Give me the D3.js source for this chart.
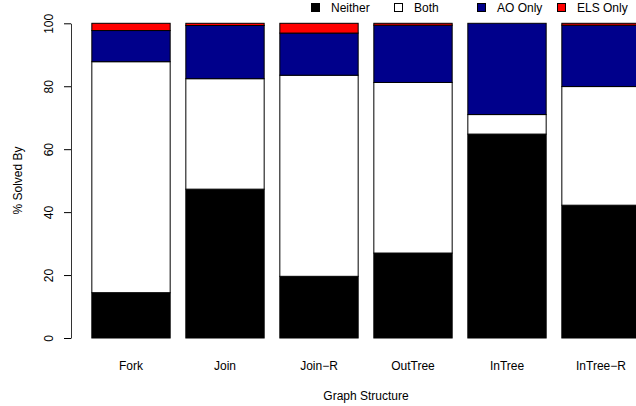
<!DOCTYPE html>
<html>
<head>
<meta charset="utf-8">
<script src="https://cdn.jsdelivr.net/npm/d3@7"></script>
<style>
  html, body { margin: 0; padding: 0; background: #fff; }
  svg { display: block; font-family: "Liberation Sans", Arial, Helvetica, sans-serif; }
</style>
</head>
<body>
<svg id="chart" width="636" height="406"></svg>
<script>
// Share of instances solved, per graph structure
const categories = ["Fork", "Join", "Join\u2212R", "OutTree", "InTree", "InTree\u2212R"];
const neither = [14.4, 47.3, 19.6, 27.0, 64.8, 42.2];
const both    = [73.4, 35.1, 63.9, 54.2,  6.2, 37.7];
const aoOnly  = [ 9.9, 16.9, 13.4, 18.2, 29.0, 19.5];
const elsOnly = [ 2.3,  0.7,  3.1,  0.6,  0.0,  0.6];
const seriesNames = ["Neither", "Both", "AO Only", "ELS Only"];
const seriesColors = ["#000000", "#ffffff", "#00008b", "#ff0000"];
const yTicks = [0, 20, 40, 60, 80, 100];

const rows = categories.map((c, i) => ({
  cat: c,
  "Neither": neither[i],
  "Both": both[i],
  "AO Only": aoOnly[i],
  "ELS Only": elsOnly[i]
}));

const fontSize = 12;
const svg = d3.select("#chart");

const x = d3.scaleBand()
  .domain(categories)
  .range([84, 648])
  .paddingInner(0.2 / 1.2)
  .paddingOuter(0.1 / 1.2);

const y = d3.scaleLinear().domain([0, 100]).range([338, 23.3]);

const stacked = d3.stack().keys(seriesNames)(rows);
const color = d3.scaleOrdinal().domain(seriesNames).range(seriesColors);

// stacked bars
svg.append("g")
  .selectAll("g")
  .data(stacked)
  .join("g")
  .attr("fill", d => color(d.key))
  .selectAll("rect")
  .data(d => d.filter(p => p[1] - p[0] > 0))
  .join("rect")
  .attr("x", d => x(d.data.cat))
  .attr("width", x.bandwidth())
  .attr("y", d => y(d[1]))
  .attr("height", d => y(d[0]) - y(d[1]))
  .attr("stroke", "#000")
  .attr("stroke-width", 1);

// y axis
const yAxis = svg.append("g")
  .attr("transform", "translate(71,0)")
  .call(d3.axisLeft(y).tickValues(yTicks).tickSize(7).tickSizeOuter(0));
yAxis.select(".domain").attr("stroke", "#333");
yAxis.selectAll(".tick line").attr("stroke", "#000");
yAxis.selectAll(".tick text")
  .attr("x", 0).attr("y", 0)
  .attr("transform", "translate(-26,0) rotate(-90)")
  .attr("text-anchor", "middle")
  .attr("dominant-baseline", "central")
  .attr("font-size", fontSize)
  .attr("font-family", "Liberation Sans, Arial, sans-serif")
  .attr("fill", "#000");

// category labels
svg.append("g")
  .selectAll("text")
  .data(categories)
  .join("text")
  .attr("x", d => x(d) + x.bandwidth() / 2)
  .attr("y", 370)
  .attr("text-anchor", "middle")
  .attr("font-size", fontSize)
  .text(d => d);

// axis titles
svg.append("text")
  .attr("x", 366).attr("y", 400)
  .attr("text-anchor", "middle")
  .attr("font-size", fontSize)
  .text("Graph Structure");

svg.append("text")
  .attr("transform", "translate(22,180.5) rotate(-90)")
  .attr("text-anchor", "middle")
  .attr("font-size", fontSize)
  .text("% Solved By");

// legend along the top edge
const legendX = [311, 394, 477, 557];
const legend = svg.append("g")
  .selectAll("g")
  .data(seriesNames)
  .join("g")
  .attr("transform", (d, i) => `translate(${legendX[i]},0)`);
legend.append("rect")
  .attr("x", 0.5).attr("y", 3.5)
  .attr("width", 8).attr("height", 8)
  .attr("fill", d => color(d))
  .attr("stroke", "#000");
legend.append("text")
  .attr("x", 20).attr("y", 11.5)
  .attr("font-size", fontSize)
  .text(d => d);
</script>
</body>
</html>
